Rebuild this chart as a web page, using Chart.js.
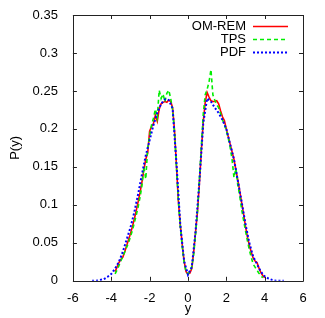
<!DOCTYPE html>
<html>
<head>
<meta charset="utf-8">
<script src="https://cdn.jsdelivr.net/npm/chart.js@4.4.0/dist/chart.umd.min.js"></script>
<style>
  html, body { margin: 0; padding: 0; background: #fff; }
  #wrap { width: 325px; height: 318px; }
</style>
</head>
<body>
<div id="wrap"><canvas id="myChart" width="325" height="318"></canvas></div>
<script>
// OM-REM and TPS are sampled every 0.1 in y
var remX = [-3.8,-3.7,-3.6,-3.5,-3.4,-3.3,-3.2,-3.1,-3.0,-2.9,-2.8,-2.7,-2.6,-2.5,-2.4,-2.3,-2.2,-2.1,-2.0,-1.9,
  -1.8,-1.7,-1.6,-1.5,-1.4,-1.3,-1.2,-1.1,-1.0,-0.9,-0.8,-0.7,-0.6,-0.5,-0.4,-0.3,-0.2,-0.1,0.0,
  0.1,0.2,0.3,0.4,0.5,0.6,0.7,0.8,0.9,1.0,1.1,1.2,1.3,1.4,1.5,1.6,1.7,1.8,1.9,2.0,
  2.1,2.2,2.3,2.4,2.5,2.6,2.7,2.8,2.9,3.0,3.1,3.2,3.3,3.4,3.5,3.6,3.7,3.8,3.9,4.0];
var remY = [0.012,0.018,0.024,0.028,0.031,0.038,0.046,0.054,0.062,0.071,0.081,0.092,0.104,0.116,0.130,0.146,0.160,0.168,0.197,0.203,
  0.207,0.218,0.210,0.226,0.233,0.235,0.236,0.235,0.238,0.236,0.228,0.198,0.152,0.105,0.074,0.048,0.026,0.012,0.009,
  0.010,0.016,0.038,0.065,0.092,0.130,0.172,0.210,0.235,0.248,0.242,0.237,0.236,0.236,0.237,0.233,0.224,0.216,0.211,0.200,
  0.190,0.180,0.170,0.160,0.146,0.133,0.118,0.103,0.088,0.072,0.058,0.047,0.038,0.030,0.026,0.024,0.017,0.011,0.007,0.004];

var tpsX = [-3.8,-3.7,-3.6,-3.5,-3.4,-3.3,-3.2,-3.1,-3.0,-2.9,-2.8,-2.7,-2.6,-2.5,-2.4,-2.3,-2.2,-2.1,-2.0,-1.9,
  -1.8,-1.7,-1.6,-1.5,-1.4,-1.3,-1.2,-1.1,-1.0,-0.9,-0.8,-0.7,-0.6,-0.5,-0.4,-0.3,-0.2,-0.1,0.0,
  0.1,0.2,0.3,0.4,0.5,0.6,0.7,0.8,0.9,1.0,1.1,1.2,1.3,1.4,1.5,1.6,1.7,1.8,1.9,2.0,
  2.1,2.2,2.3,2.4,2.5,2.6,2.7,2.8,2.9,3.0,3.1,3.2,3.3,3.4,3.5,3.6,3.7,3.8,3.9];
var tpsY = [0.009,0.014,0.020,0.026,0.032,0.038,0.044,0.050,0.058,0.066,0.076,0.086,0.097,0.110,0.125,0.150,0.134,0.175,0.190,0.205,
  0.214,0.226,0.215,0.251,0.240,0.246,0.236,0.247,0.251,0.240,0.225,0.195,0.150,0.105,0.072,0.045,0.024,0.012,0.009,
  0.012,0.018,0.035,0.062,0.092,0.135,0.178,0.220,0.245,0.252,0.262,0.278,0.245,0.238,0.232,0.228,0.220,0.212,0.206,0.198,
  0.188,0.176,0.160,0.136,0.148,0.126,0.112,0.094,0.080,0.066,0.053,0.041,0.031,0.022,0.018,0.014,0.010,0.007,0.004];

// PDF is sampled every 0.2
var pdfX = [-5.0,-4.8,-4.6,-4.4,-4.2,-4.0,-3.8,-3.6,-3.4,-3.2,-3.0,-2.8,-2.6,-2.4,-2.2,-2.0,-1.8,-1.6,-1.4,-1.2,
  -1.0,-0.8,-0.6,-0.4,-0.2,0.0,0.2,0.4,0.6,0.8,1.0,1.2,1.4,1.6,1.8,2.0,2.2,2.4,2.6,2.8,
  3.0,3.2,3.4,3.6,3.8,4.0,4.2,4.4,4.6,4.8,5.0];
var pdfY = [0.000,0.000,0.001,0.002,0.005,0.009,0.016,0.025,0.038,0.054,0.070,0.090,0.114,0.140,0.165,0.185,0.205,0.221,0.233,0.239,
  0.238,0.227,0.155,0.074,0.026,0.008,0.018,0.066,0.132,0.208,0.240,0.236,0.228,0.221,0.212,0.200,0.180,0.160,0.132,0.104,
  0.075,0.050,0.032,0.022,0.012,0.006,0.003,0.001,0.000,0.000,0.000];

var labels = ['OM-REM', 'TPS', 'PDF'];
var colors = ['#ff0000', '#00ee00', '#0000ff'];
var dashes = [[], [4, 3], [2, 2]];

function pts(xs, ys) {
    var out = [];
    for (var i = 0; i < xs.length; i++) out.push({x: xs[i], y: ys[i]});
    return out;
}

var FONT = '"Liberation Sans", Arial, sans-serif';

// gnuplot style frame: box with inward ticks on all four sides, plus key
var framePlugin = {
    id: 'frame',
    afterDatasetsDraw: function (chart) {
        var c = chart.ctx, a = chart.chartArea;
        var xs = chart.scales.x, ys = chart.scales.y;
        c.save();
        c.strokeStyle = '#222';
        c.lineWidth = 1;
        c.setLineDash([]);
        c.beginPath();
        c.rect(Math.round(a.left) + 0.5, Math.round(a.top) + 0.5,
            Math.round(a.right - a.left), Math.round(a.bottom - a.top));
        var t = 4;
        xs.ticks.forEach(function (tk) {
            var px = Math.round(xs.getPixelForValue(tk.value)) + 0.5;
            c.moveTo(px, a.bottom); c.lineTo(px, a.bottom - t);
            c.moveTo(px, a.top); c.lineTo(px, a.top + t);
        });
        ys.ticks.forEach(function (tk) {
            var py = Math.round(ys.getPixelForValue(tk.value)) + 0.5;
            c.moveTo(a.left, py); c.lineTo(a.left + t, py);
            c.moveTo(a.right, py); c.lineTo(a.right - t, py);
        });
        c.stroke();

        // key
        c.font = '13px ' + FONT;
        c.fillStyle = '#000';
        c.textAlign = 'right';
        c.textBaseline = 'middle';
        chart.data.datasets.forEach(function (ds, i) {
            var y = 26 + i * 13;
            c.fillText(ds.label, 246, y);
            c.strokeStyle = ds.borderColor;
            c.lineWidth = ds.borderWidth;
            c.setLineDash(ds.borderDash);
            c.beginPath();
            c.moveTo(253, y + 0.5);
            c.lineTo(288, y + 0.5);
            c.stroke();
        });
        c.restore();
    }
};

var ctx = document.getElementById('myChart').getContext('2d');
var myChart = new Chart(ctx, {
    type: 'scatter',
    data: {
        datasets: [
            {label: labels[0], data: pts(remX, remY), borderColor: colors[0], borderWidth: 1.6, borderDash: dashes[0], order: 3},
            {label: labels[1], data: pts(tpsX, tpsY), borderColor: colors[1], borderWidth: 1.6, borderDash: dashes[1], order: 2},
            {label: labels[2], data: pts(pdfX, pdfY), borderColor: colors[2], borderWidth: 2, borderDash: dashes[2], order: 1}
        ].map(function (d) {
            d.showLine = true;
            d.pointRadius = 0;
            d.fill = false;
            d.tension = 0;
            return d;
        })
    },
    options: {
        responsive: false,
        animation: false,
        layout: {padding: {left: 8, right: 22, top: 15, bottom: 2}},
        plugins: {legend: {display: false}, tooltip: {enabled: false}},
        scales: {
            x: {
                type: 'linear',
                min: -6, max: 6,
                grid: {display: false},
                border: {display: false},
                ticks: {stepSize: 2, color: '#000', font: {family: FONT, size: 13}, padding: 2,
                    callback: function (v) { return String(v); }},
                title: {display: true, text: 'y', color: '#000', font: {family: FONT, size: 13}, padding: {top: -8, bottom: 0}}
            },
            y: {
                type: 'linear',
                min: 0, max: 0.35,
                grid: {display: false},
                border: {display: false},
                ticks: {stepSize: 0.05, color: '#000', font: {family: FONT, size: 13}, padding: 7,
                    callback: function (v) { return String(+v.toFixed(2)); }},
                title: {display: true, text: 'P(y)', color: '#000', font: {family: FONT, size: 13}, padding: {top: 0, bottom: 2}}
            }
        }
    },
    plugins: [framePlugin]
});
</script>
</body>
</html>
